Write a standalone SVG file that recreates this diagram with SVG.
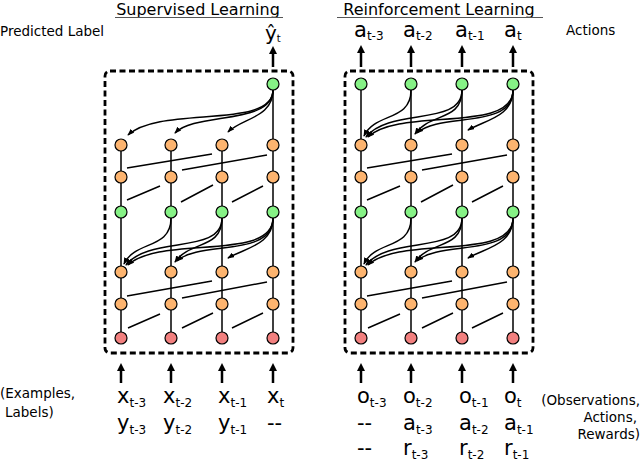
<svg xmlns="http://www.w3.org/2000/svg" width="640" height="461" viewBox="0 0 640 461">
<defs>
<marker id="ah" viewBox="0 0 8 6" refX="7" refY="3" markerWidth="7" markerHeight="5.5" orient="auto" markerUnits="userSpaceOnUse"><path d="M0,0 L8,3 L0,6 z" fill="#000"/></marker>
<marker id="big" viewBox="0 0 8 8" refX="2" refY="4" markerWidth="8" markerHeight="8" orient="auto" markerUnits="userSpaceOnUse"><path d="M0,0 L8,4 L0,8 z" fill="#000"/></marker>
</defs>
<style>
text{font-family:"DejaVu Sans","Liberation Sans",sans-serif;fill:#000}
.lab{font-size:13.5px}
.ttl{font-size:16px}
.big{font-size:21px}
.sub{font-size:12px}
.box{fill:none;stroke:#000;stroke-width:2.8;stroke-dasharray:6 3.5}
circle{stroke:#000;stroke-width:1.2}
.g{fill:#86f286}
.o{fill:#fdb46f}
.r{fill:#f2807f}
.ln{fill:none;stroke:#000;stroke-width:1.5}
.cv{fill:none;stroke:#000;stroke-width:1.5;marker-end:url(#ah)}
.io{fill:none;stroke:#000;stroke-width:2.5;marker-end:url(#big)}
</style>
<rect width="640" height="461" fill="#fff"/>

<g id="titles">
<text class="ttl" x="198" y="15" text-anchor="middle">Supervised Learning</text>
<line x1="115" y1="17.5" x2="283" y2="17.5" stroke="#555" stroke-width="1"/>
<text class="ttl" x="439" y="15" text-anchor="middle">Reinforcement Learning</text>
<line x1="337" y1="17.5" x2="543" y2="17.5" stroke="#555" stroke-width="1"/>
<text class="lab" x="0" y="36">Predicted Label</text>
<text class="lab" x="566" y="35">Actions</text>
<text class="lab" x="0" y="398">(Examples,</text>
<text class="lab" x="5" y="417">Labels)</text>
<text class="lab" x="640" y="405" text-anchor="end">(Observations,</text>
<text class="lab" x="637" y="422" text-anchor="end">Actions,</text>
<text class="lab" x="640" y="439" text-anchor="end">Rewards)</text>
</g>

<g id="io-labels">
<text class="big" x="265" y="40" style="font-size:20px">ŷ<tspan class="sub" dy="2" style="font-size:10px">t</tspan></text>
<text class="big" x="354" y="37">a<tspan class="sub" dy="2.5">t-3</tspan></text>
<text class="big" x="403" y="37">a<tspan class="sub" dy="2.5">t-2</tspan></text>
<text class="big" x="455" y="37">a<tspan class="sub" dy="2.5">t-1</tspan></text>
<text class="big" x="504" y="37">a<tspan class="sub" dy="2.5">t</tspan></text>

<text class="big" x="117" y="403">x<tspan class="sub" dy="3.5">t-3</tspan></text>
<text class="big" x="163" y="403">x<tspan class="sub" dy="3.5">t-2</tspan></text>
<text class="big" x="218" y="403">x<tspan class="sub" dy="3.5">t-1</tspan></text>
<text class="big" x="267" y="403">x<tspan class="sub" dy="3.5">t</tspan></text>
<text class="big" x="117" y="430">y<tspan class="sub" dy="3.5">t-3</tspan></text>
<text class="big" x="163" y="430">y<tspan class="sub" dy="3.5">t-2</tspan></text>
<text class="big" x="218" y="430">y<tspan class="sub" dy="3.5">t-1</tspan></text>
<text class="big" x="267" y="430">--</text>

<text class="big" x="357" y="403">o<tspan class="sub" dy="3.5">t-3</tspan></text>
<text class="big" x="403" y="403">o<tspan class="sub" dy="3.5">t-2</tspan></text>
<text class="big" x="459" y="403">o<tspan class="sub" dy="3.5">t-1</tspan></text>
<text class="big" x="504" y="403">o<tspan class="sub" dy="3.5">t</tspan></text>
<text class="big" x="357" y="430">--</text>
<text class="big" x="403" y="430">a<tspan class="sub" dy="3.5">t-3</tspan></text>
<text class="big" x="459" y="430">a<tspan class="sub" dy="3.5">t-2</tspan></text>
<text class="big" x="504" y="430">a<tspan class="sub" dy="3.5">t-1</tspan></text>
<text class="big" x="357" y="455">--</text>
<text class="big" x="403" y="455">r<tspan class="sub" dy="3.5">t-3</tspan></text>
<text class="big" x="459" y="455">r<tspan class="sub" dy="3.5">t-2</tspan></text>
<text class="big" x="504" y="455">r<tspan class="sub" dy="3.5">t-1</tspan></text>
</g>

<g id="boxes">
<rect class="box" x="105" y="71" width="188" height="282" rx="5"/>
<rect class="box" x="345" y="71" width="188" height="282" rx="5"/>
</g>

<g id="connectors">
<path class="io" d="M273,67 V52"/>
<path class="io" d="M361,67 V51"/>
<path class="io" d="M411,67 V51"/>
<path class="io" d="M462,67 V51"/>
<path class="io" d="M513,67 V51"/>
<path class="io" d="M121,383 V369"/>
<path class="io" d="M171,383 V369"/>
<path class="io" d="M222,383 V369"/>
<path class="io" d="M273,383 V369"/>
<path class="io" d="M361,383 V369"/>
<path class="io" d="M411,383 V369"/>
<path class="io" d="M462,383 V369"/>
<path class="io" d="M513,383 V369"/>

<path class="ln" d="M273,90 V139
M121,151 V171 M171,151 V171 M222,151 V171 M273,151 V171
M121,183 V206 M171,183 V206 M222,183 V206 M273,183 V206
M121,218 V266 M171,218 V266 M222,218 V266 M273,218 V266
M121,278 V298 M171,278 V298 M222,278 V298 M273,278 V298
M121,310 V332 M171,310 V332 M222,310 V332 M273,310 V332"/>
<path class="ln" d="M127,168 L212,154 M182,170 L267,155 M127,200 L160,186 M181,202 L213,185 M232,202 L263,186
M127,296 L212,281 M182,298 L267,282 M128,328 L160,314 M182,328 L213,313 M232,328 L263,313"/>
<path class="cv" d="M273,90 C273,118 242,118 228,132"/>
<path class="cv" d="M273,90 C273,125 195,112 175,133"/>
<path class="cv" d="M273,90 C273,130 160,105 128,135"/>
<path class="cv" d="M171,218 C171,250 135,240 124,264"/>
<path class="cv" d="M222,218 C222,255 150,235 126,265"/>
<path class="cv" d="M273,218 C273,262 160,235 128,265"/>
<path class="cv" d="M222,218 C222,250 190,240 175,262"/>
<path class="cv" d="M273,218 C273,258 200,240 177,261"/>
<path class="cv" d="M273,218 C273,245 245,248 228,258"/>

<path class="ln" d="M361,90 V139 M411,90 V139 M462,90 V139 M513,90 V139
M361,151 V171 M411,151 V171 M462,151 V171 M513,151 V171
M361,183 V206 M411,183 V206 M462,183 V206 M513,183 V206
M361,218 V266 M411,218 V266 M462,218 V266 M513,218 V266
M361,278 V298 M411,278 V298 M462,278 V298 M513,278 V298
M361,310 V332 M411,310 V332 M462,310 V332 M513,310 V332"/>
<path class="ln" d="M367,168 L452,154 M422,170 L507,155 M367,200 L400,186 M421,202 L453,185 M472,202 L503,186
M367,296 L452,281 M422,298 L507,282 M368,328 L400,314 M422,328 L453,313 M472,328 L503,313"/>
<path class="cv" d="M411,90 C411,122 375,112 364,136"/>
<path class="cv" d="M462,90 C462,127 390,107 366,137"/>
<path class="cv" d="M513,90 C513,134 400,107 368,137"/>
<path class="cv" d="M462,90 C462,122 430,112 415,134"/>
<path class="cv" d="M513,90 C513,130 440,112 417,133"/>
<path class="cv" d="M513,90 C513,117 485,120 468,130"/>
<path class="cv" d="M411,218 C411,250 375,240 364,264"/>
<path class="cv" d="M462,218 C462,255 390,235 366,265"/>
<path class="cv" d="M513,218 C513,262 400,235 368,265"/>
<path class="cv" d="M462,218 C462,250 430,240 415,262"/>
<path class="cv" d="M513,218 C513,258 440,240 417,261"/>
<path class="cv" d="M513,218 C513,245 485,248 468,258"/>
</g>

<g id="L-top4"><circle class="g" cx="273" cy="84" r="6"/></g>
<g id="L-a1-1"><circle class="o" cx="121" cy="145" r="6"/></g>
<g id="L-a1-2"><circle class="o" cx="171" cy="145" r="6"/></g>
<g id="L-a1-3"><circle class="o" cx="222" cy="145" r="6"/></g>
<g id="L-a1-4"><circle class="o" cx="273" cy="145" r="6"/></g>
<g id="L-a2-1"><circle class="o" cx="121" cy="177" r="6"/></g>
<g id="L-a2-2"><circle class="o" cx="171" cy="177" r="6"/></g>
<g id="L-a2-3"><circle class="o" cx="222" cy="177" r="6"/></g>
<g id="L-a2-4"><circle class="o" cx="273" cy="177" r="6"/></g>
<g id="L-g-1"><circle class="g" cx="121" cy="212" r="6"/></g>
<g id="L-g-2"><circle class="g" cx="171" cy="212" r="6"/></g>
<g id="L-g-3"><circle class="g" cx="222" cy="212" r="6"/></g>
<g id="L-g-4"><circle class="g" cx="273" cy="212" r="6"/></g>
<g id="L-b1-1"><circle class="o" cx="121" cy="272" r="6"/></g>
<g id="L-b1-2"><circle class="o" cx="171" cy="272" r="6"/></g>
<g id="L-b1-3"><circle class="o" cx="222" cy="272" r="6"/></g>
<g id="L-b1-4"><circle class="o" cx="273" cy="272" r="6"/></g>
<g id="L-b2-1"><circle class="o" cx="121" cy="304" r="6"/></g>
<g id="L-b2-2"><circle class="o" cx="171" cy="304" r="6"/></g>
<g id="L-b2-3"><circle class="o" cx="222" cy="304" r="6"/></g>
<g id="L-b2-4"><circle class="o" cx="273" cy="304" r="6"/></g>
<g id="L-in-1"><circle class="r" cx="121" cy="338" r="6"/></g>
<g id="L-in-2"><circle class="r" cx="171" cy="338" r="6"/></g>
<g id="L-in-3"><circle class="r" cx="222" cy="338" r="6"/></g>
<g id="L-in-4"><circle class="r" cx="273" cy="338" r="6"/></g>

<g id="R-top-1"><circle class="g" cx="361" cy="84" r="6"/></g>
<g id="R-top-2"><circle class="g" cx="411" cy="84" r="6"/></g>
<g id="R-top-3"><circle class="g" cx="462" cy="84" r="6"/></g>
<g id="R-top-4"><circle class="g" cx="513" cy="84" r="6"/></g>
<g id="R-a1-1"><circle class="o" cx="361" cy="145" r="6"/></g>
<g id="R-a1-2"><circle class="o" cx="411" cy="145" r="6"/></g>
<g id="R-a1-3"><circle class="o" cx="462" cy="145" r="6"/></g>
<g id="R-a1-4"><circle class="o" cx="513" cy="145" r="6"/></g>
<g id="R-a2-1"><circle class="o" cx="361" cy="177" r="6"/></g>
<g id="R-a2-2"><circle class="o" cx="411" cy="177" r="6"/></g>
<g id="R-a2-3"><circle class="o" cx="462" cy="177" r="6"/></g>
<g id="R-a2-4"><circle class="o" cx="513" cy="177" r="6"/></g>
<g id="R-g-1"><circle class="g" cx="361" cy="212" r="6"/></g>
<g id="R-g-2"><circle class="g" cx="411" cy="212" r="6"/></g>
<g id="R-g-3"><circle class="g" cx="462" cy="212" r="6"/></g>
<g id="R-g-4"><circle class="g" cx="513" cy="212" r="6"/></g>
<g id="R-b1-1"><circle class="o" cx="361" cy="272" r="6"/></g>
<g id="R-b1-2"><circle class="o" cx="411" cy="272" r="6"/></g>
<g id="R-b1-3"><circle class="o" cx="462" cy="272" r="6"/></g>
<g id="R-b1-4"><circle class="o" cx="513" cy="272" r="6"/></g>
<g id="R-b2-1"><circle class="o" cx="361" cy="304" r="6"/></g>
<g id="R-b2-2"><circle class="o" cx="411" cy="304" r="6"/></g>
<g id="R-b2-3"><circle class="o" cx="462" cy="304" r="6"/></g>
<g id="R-b2-4"><circle class="o" cx="513" cy="304" r="6"/></g>
<g id="R-in-1"><circle class="r" cx="361" cy="338" r="6"/></g>
<g id="R-in-2"><circle class="r" cx="411" cy="338" r="6"/></g>
<g id="R-in-3"><circle class="r" cx="462" cy="338" r="6"/></g>
<g id="R-in-4"><circle class="r" cx="513" cy="338" r="6"/></g>
</svg>
